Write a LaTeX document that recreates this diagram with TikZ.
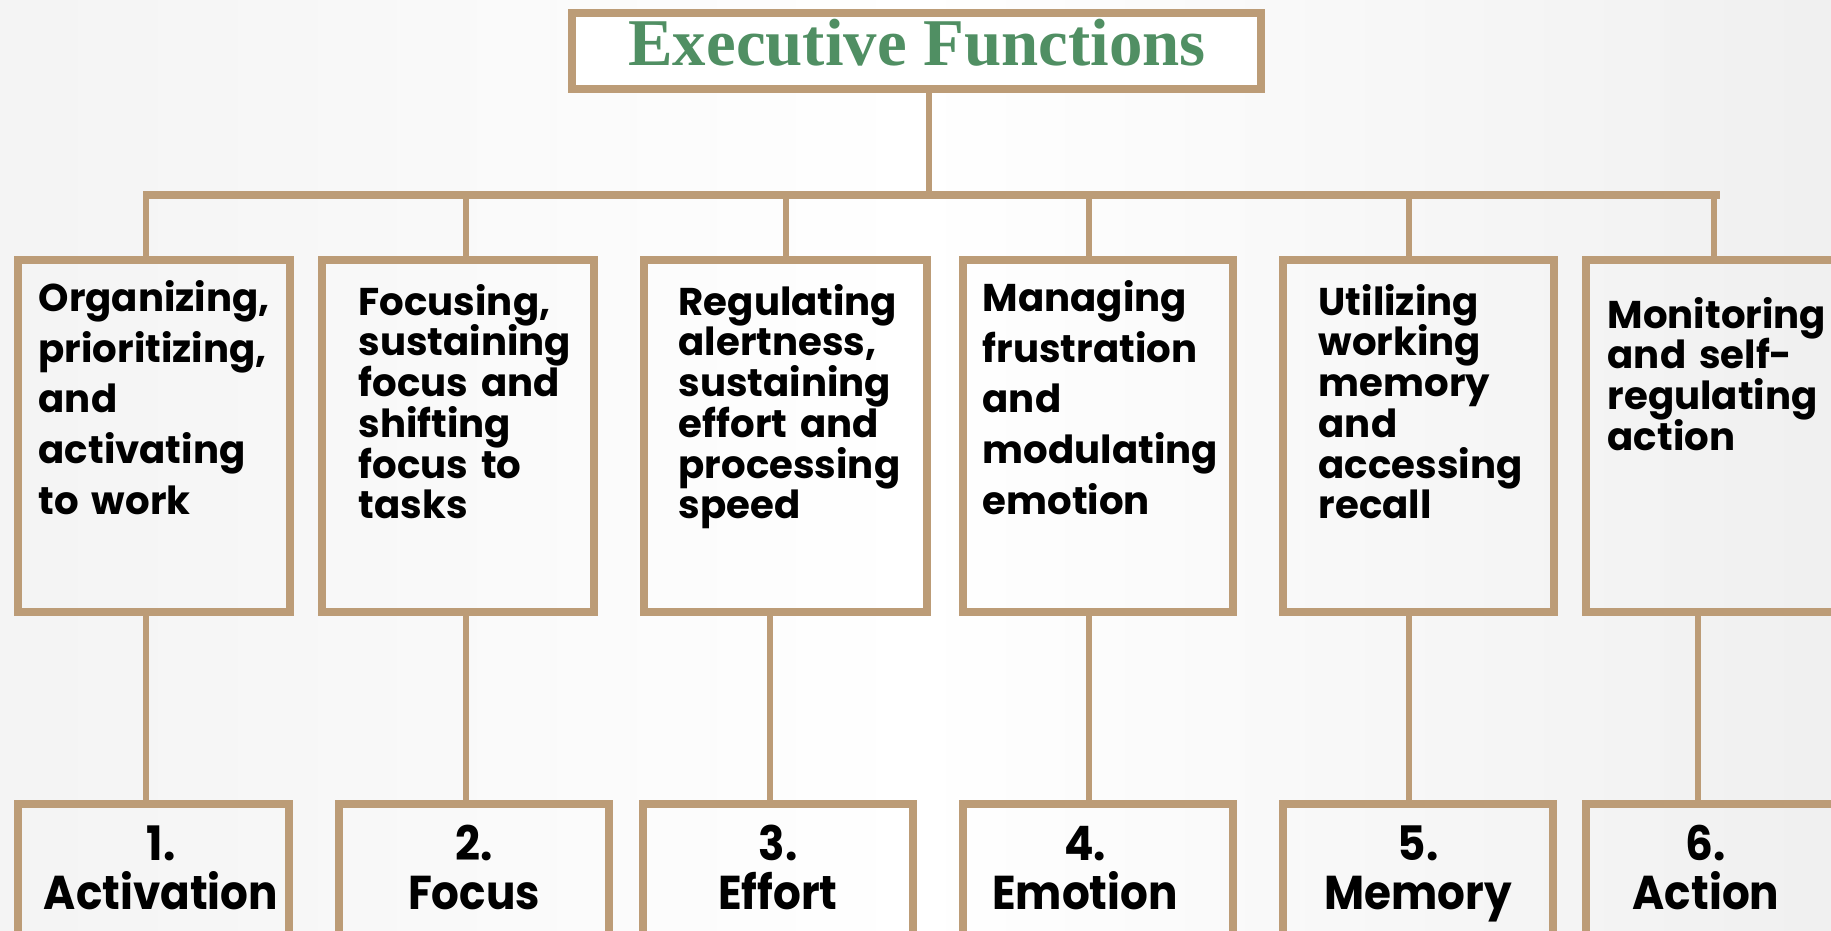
\documentclass[tikz,border=0pt]{standalone}
\usepackage{fontspec}
\setmainfont{Poppins}
\newfontfamily\headfont{Liberation Serif}
\newfontfamily\narrowfont[FakeStretch=0.92]{Poppins}
\definecolor{tan}{RGB}{188,156,119}
\definecolor{leaf}{RGB}{80,143,99}
% keep the baselines evenly spaced
\protected\def\tightlines{\lineskiplimit=-8pt\relax\lineskip=0pt\relax}

\begin{document}
\begin{tikzpicture}[x=0.01cm,y=-0.01cm,
    frame/.style={draw=tan,line width=2.2pt},
    fnbox/.style={frame,minimum height=3.52cm},
    numbox/.style={frame,minimum height=1.76cm},
    link/.style={draw=tan,line width=1.5pt},
    fntext/.style={anchor=base west,align=left,text width=3cm,inner sep=0pt,
        font=\bfseries\fontsize{11}{11.6}\selectfont,execute at begin node=\tightlines},
    widetext/.style={fntext,font=\bfseries\fontsize{11}{14.5}\selectfont},
    numtext/.style={anchor=base,align=center,text width=3cm,inner sep=0pt,
        font=\narrowfont\bfseries\fontsize{13.5}{14}\selectfont,execute at begin node=\tightlines}]
    \useasboundingbox (0,0) rectangle (1831,930);
    \clip (0,0) rectangle (1831,930);
    \shade[left color=gray!9,right color=gray!12,middle color=white] (0,0) rectangle (1831,930);

    % top box
    \node[frame,fill=white,minimum width=6.89cm,minimum height=0.76cm](title)at(916.5,51){};
    \node[anchor=base,inner sep=0pt,text=leaf,font=\headfont\bfseries\fontsize{19}{19}\selectfont](titletext)at(917,65){Executive Functions};

    % the six functions
    \node[fnbox,minimum width=2.72cm](b1)at(154,436){};
    \node[fnbox,minimum width=2.72cm](b2)at(458,436){};
    \node[fnbox,minimum width=2.83cm](b3)at(785.5,436){};
    \node[fnbox,minimum width=2.70cm](b4)at(1098,436){};
    \node[fnbox,minimum width=2.71cm](b5)at(1418.5,436){};
    \node[fnbox,minimum width=3.14cm](b6)at(1743,436){};

    \node[widetext](t1)at(38,311){Organizing,\\prioritizing,\\and\\activating\\to work};
    \node[fntext](t2)at(358,315){Focusing,\\sustaining\\focus and\\shifting\\focus to\\tasks};
    \node[fntext](t3)at(678,315){Regulating\\alertness,\\sustaining\\effort and\\processing\\speed};
    \node[widetext](t4)at(982,311){Managing\\frustration\\and\\modulating\\emotion};
    \node[fntext](t5)at(1318,315){Utilizing\\working\\memory\\and\\accessing\\recall};
    \node[fntext](t6)at(1607,328){Monitoring\\and self-\\regulating\\action};

    % short names
    \node[numbox,minimum width=2.71cm](c1)at(153.5,892){};
    \node[numbox,minimum width=2.70cm](c2)at(474,892){};
    \node[numbox,minimum width=2.70cm](c3)at(778,892){};
    \node[numbox,minimum width=2.70cm](c4)at(1098,892){};
    \node[numbox,minimum width=2.70cm](c5)at(1418,892){};
    \node[numbox,minimum width=3.14cm](c6)at(1743,892){};

    \node[numtext](n1)at(161,860){1.\\Activation};
    \node[numtext](n2)at(474,860){2.\\Focus};
    \node[numtext](n3)at(778,860){3.\\Effort};
    \node[numtext](n4)at(1085,860){4.\\Emotion};
    \node[numtext](n5)at(1418,860){5.\\Memory};
    \node[numtext](n6)at(1706,860){6.\\Action};

    % tree lines
    \coordinate (barL) at (143,195);
    \coordinate (barR) at (1720,195);
    \coordinate (j0) at (929,195);
    \coordinate (j1) at (146,195);
    \coordinate (j2) at (466,195);
    \coordinate (j3) at (786,195);
    \coordinate (j4) at (1089,195);
    \coordinate (j5) at (1409,195);
    \coordinate (j6) at (1714,195);
    \draw[tan,line width=2.2pt] (barL) -- (barR);
    \path[link] (title.south -| j0) edge (j0)
        (j1) edge (j1 |- b1.north)
        (j2) edge (j2 |- b2.north)
        (j3) edge (j3 |- b3.north)
        (j4) edge (j4 |- b4.north)
        (j5) edge (j5 |- b5.north)
        (j6) edge (j6 |- b6.north);

    \coordinate (k1) at (146,700);
    \coordinate (k2) at (466,700);
    \coordinate (k3) at (770,700);
    \coordinate (k4) at (1089,700);
    \coordinate (k5) at (1409,700);
    \coordinate (k6) at (1698,700);
    \path[link] (b1.south -| k1) edge (k1 |- c1.north)
        (b2.south -| k2) edge (k2 |- c2.north)
        (b3.south -| k3) edge (k3 |- c3.north)
        (b4.south -| k4) edge (k4 |- c4.north)
        (b5.south -| k5) edge (k5 |- c5.north)
        (b6.south -| k6) edge (k6 |- c6.north);
\end{tikzpicture}
\end{document}
